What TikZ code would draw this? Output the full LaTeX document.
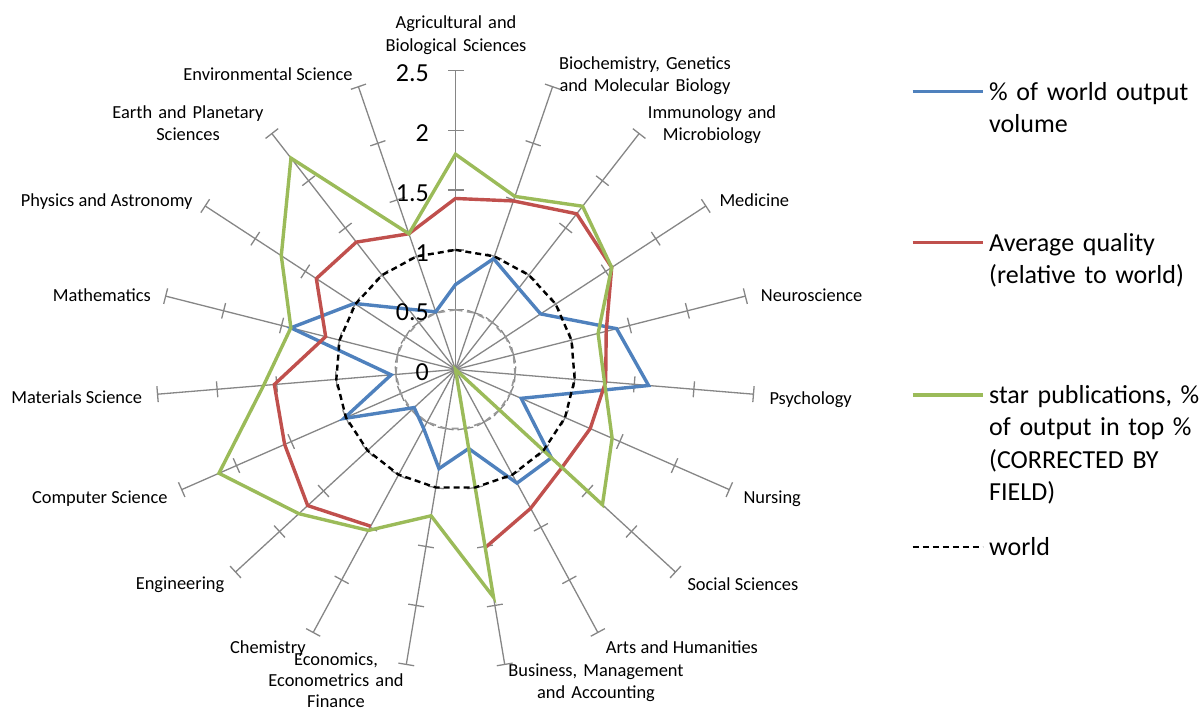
\documentclass[tikz,border=0pt]{standalone}
\usepackage{fontspec}
\setmainfont{Carlito}
\usetikzlibrary{calc}
\definecolor{serblue}{HTML}{4F81BD}
\definecolor{serred}{HTML}{C0504D}
\definecolor{sergreen}{HTML}{9BBB59}
\definecolor{axisgray}{HTML}{868686}
\definecolor{gridgray}{HTML}{9A9A9A}
\begin{document}
\begin{tikzpicture}[x=1pt,y=-1pt,
  spoke/.style={draw=axisgray, line width=1.3pt},
  series/.style={line width=3.4pt},
  worldline/.style={black, line width=2.4pt, dash pattern=on 6pt off 4pt},
  halfline/.style={gridgray, line width=1.7pt, dash pattern=on 7pt off 4.5pt},
  cat/.style={inner sep=0pt, font=\fontsize{18.4}{22.5}\selectfont},
  catml/.style={cat, text width=#1, align=center, anchor=base},
  scalelbl/.style={inner sep=0pt, anchor=base east, font=\fontsize{26}{30}\selectfont},
  legtext/.style={inner sep=0pt, anchor=base west, text width=240pt, align=left,
    font=\fontsize{26}{32.3}\selectfont},
  legline/.style={line width=3.2pt},
]
\useasboundingbox (0,0) rectangle (1204,710);

% radar: 19 spokes, 119.6pt per unit, centre of the web
\begin{scope}[shift={(455.5,369.5)}]
  \coordinate (ctr) at (0,0);
  \foreach \k in {0,...,18}{
    \pgfmathsetmacro\a{-90+\k*360/19}
    \draw[spoke] (ctr) -- ({\a}:299);
    \foreach \v in {0.5,1,1.5,2,2.5}{
      \draw[spoke] ($({\a}:{\v*119.6})+({\a+90}:8)$) -- ($({\a}:{\v*119.6})+({\a-90}:8)$);
    }
  }
  % half-world ring
  \draw[halfline] (-90:59.8) \foreach \k in {1,...,18}{ -- ({-90+\k*360/19}:59.8) } -- cycle;

  % series values, clockwise from Agricultural and Biological Sciences
  \foreach \v [count=\k from 0] in {0.71,0.98,0.86,0.85,1.39,1.62,0.60,1.09,1.08,0.67,0.84,0.56,0.47,1.02,0.54,1.42,1.01,0.64,0.51}{
    \coordinate (b\k) at ({-90+\k*360/19}:{\v*119.6});
  }
  \foreach \v [count=\k from 0] in {1.43,1.49,1.65,1.56,1.30,1.26,1.23,1.21,1.32,1.51,0,1.49,1.68,1.56,1.52,1.12,1.39,1.35,1.20}{
    \coordinate (r\k) at ({-90+\k*360/19}:{\v*119.6});
  }
  \foreach \v [count=\k from 0] in {1.80,1.53,1.73,1.56,1.23,1.25,1.43,1.67,0,1.93,1.24,1.53,1.78,2.16,1.61,1.42,1.74,2.24,1.20}{
    \coordinate (g\k) at ({-90+\k*360/19}:{\v*119.6});
  }
  \draw[series, serblue] (b0) \foreach \k in {1,...,18}{ -- (b\k) } -- cycle;
  % no value for Economics: the line breaks there
  \draw[series, serred] (r11) \foreach \k in {12,...,18}{ -- (r\k) } \foreach \k in {0,...,9}{ -- (r\k) };
  \draw[series, sergreen] (g0) \foreach \k in {1,...,18}{ -- (g\k) } -- cycle;
  % world level
  \draw[worldline] (-90:119.6) \foreach \k in {1,...,18}{ -- ({-90+\k*360/19}:119.6) } -- cycle;
\end{scope}

% scale values on the vertical spoke
\node[scalelbl] (s0)  at (429,380.7) {0};
\node[scalelbl] (s05) at (429,320.9) {0.5};
\node[scalelbl] (s1)  at (429,261.1) {1};
\node[scalelbl] (s15) at (429,201.3) {1.5};
\node[scalelbl] (s2)  at (429,141.5) {2};
\node[scalelbl] (s25) at (429,81.7) {2.5};

% category labels
\node[catml=220pt] (c0) at (456,28.7) {Agricultural and\\Biological Sciences};
\node[catml=220pt] (c1) at (645,69) {Biochemistry, Genetics\\and Molecular Biology};
\node[catml=200pt] (c2) at (712,118) {Immunology and\\Microbiology};
\node[cat, anchor=base west] (c3) at (719.3,206.7) {Medicine};
\node[cat, anchor=base west] (c4) at (760.7,301) {Neuroscience};
\node[cat, anchor=base west] (c5) at (769.3,404.3) {Psychology};
\node[cat, anchor=base west] (c6) at (743.3,503.3) {Nursing};
\node[cat, anchor=base west] (c7) at (687.3,590.3) {Social Sciences};
\node[cat, anchor=base west] (c8) at (605.7,653.3) {Arts and Humanities};
\node[catml=220pt] (c9) at (596,676) {Business, Management\\and Accounting};
\node[catml=200pt, font=\fontsize{18.4}{21.3}\selectfont] (c10) at (336,665) {Economics,\\Econometrics and\\Finance};
\node[cat, anchor=base west] (c11) at (229.9,653.3) {Chemistry};
\node[cat, anchor=base east] (c12) at (224.5,589.5) {Engineering};
\node[cat, anchor=base east] (c13) at (167.7,503.3) {Computer Science};
\node[cat, anchor=base east] (c14) at (142.3,403.3) {Materials Science};
\node[cat, anchor=base east] (c15) at (151,301) {Mathematics};
\node[cat, anchor=base east] (c16) at (192.7,206.7) {Physics and Astronomy};
\node[catml=200pt] (c17) at (188,118) {Earth and Planetary\\Sciences};
\node[cat, anchor=base] (c18) at (268,80) {Environmental Science};

% legend
\coordinate (lb1) at (912.7,91.7);  \coordinate (lb2) at (982.7,91.7);
\coordinate (lr1) at (912.7,242.7); \coordinate (lr2) at (982.7,242.7);
\coordinate (lg1) at (912.7,395);   \coordinate (lg2) at (982.7,395);
\coordinate (lw1) at (912.7,546.7); \coordinate (lw2) at (982.7,546.7);
\draw[legline, serblue] (lb1) -- (lb2);
\draw[legline, serred] (lr1) -- (lr2);
\draw[legline, sergreen] (lg1) -- (lg2);
\draw[worldline] (lw1) -- (lw2);
\node[legtext] (t1) at (989,100.1) {\% of world output\\volume};
\node[legtext] (t2) at (989,251.1) {Average quality\\(relative to world)};
\node[legtext] (t3) at (989,403.4) {star publications, \%\\of output in top \%\\(CORRECTED BY\\FIELD)};
\node[legtext] (t4) at (989,555.1) {world};
\end{tikzpicture}
\end{document}
